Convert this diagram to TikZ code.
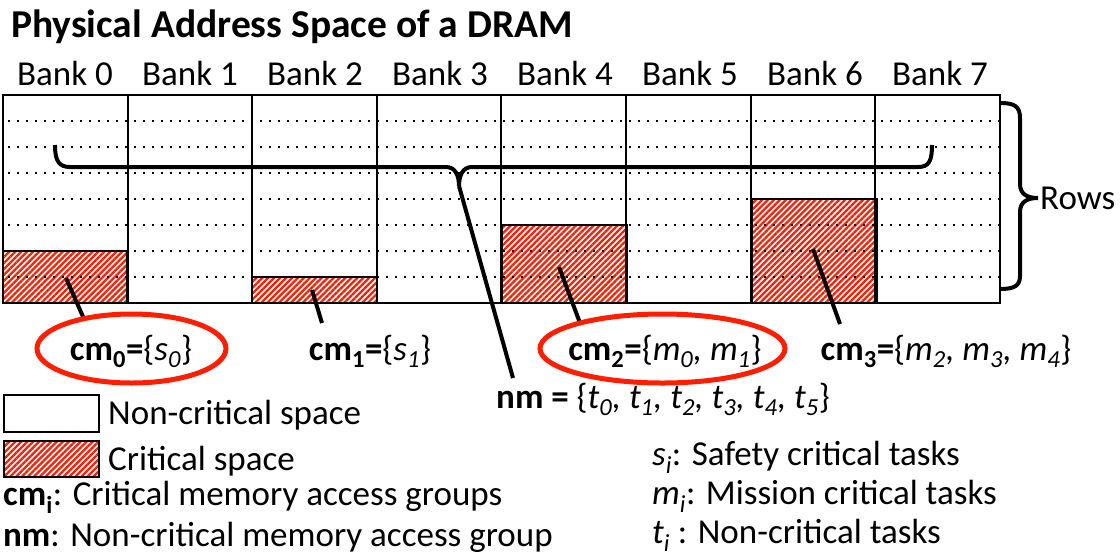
\documentclass[tikz,border=0pt]{standalone}
\usepackage{fontspec}
\setmainfont{Carlito}
\usetikzlibrary{shapes.geometric,patterns.meta}
\definecolor{hred}{RGB}{255,30,0}
\newcommand\bodyfont{\fontsize{35}{40}\selectfont}
\newcommand\titlefont{\fontsize{39.5}{44}\selectfont\bfseries}
\newcommand\sbx[1]{\textsubscript{#1}}
\tikzset{
  gridline/.style={line width=2pt},
  rowline/.style={line width=1.9pt, dash pattern=on 1.9pt off 7.1pt},
  hatchbox/.style={pattern={Lines[angle=45,distance=4.2pt,line width=2.3pt]}, pattern color=hred},
  hatchborder/.style={draw=black, line width=2pt},
  pointer/.style={line width=4pt},
  bracepath/.style={line width=4pt},
  oval/.style={ellipse, draw=hred, line width=5pt, inner sep=0pt},
  lbl/.style={font=\bodyfont, inner sep=0pt},
  legbox/.style={draw=black, line width=2pt}
}
\begin{document}
\begin{tikzpicture}[x=1pt,y=-1pt]
\useasboundingbox (0,0) rectangle (1120,558);
% title
\node[font=\titlefont, anchor=base west, inner sep=0pt] (title) at (11,37) {Physical Address Space of a DRAM};
% bank labels
\foreach \i in {0,...,7} {
  \node[lbl, anchor=base] (bank\i) at ({65+125*\i},85) {Bank \i};
}
% hatched critical regions
\fill[hatchbox] (3,251) rectangle (127,303);
\fill[hatchbox] (252,277) rectangle (377,303);
\fill[hatchbox] (502,225) rectangle (627,303);
\fill[hatchbox] (752,199) rectangle (877,303);
% dotted row lines
\foreach \r in {1,...,7} {
  \draw[rowline] (8,{95+26*\r}) -- (1000,{95+26*\r});
}
% grid
\draw[gridline] (3,95) rectangle (1000,303);
\foreach \i in {1,...,7} {
  \draw[gridline] ({3+124.6*\i},95) -- ({3+124.6*\i},303);
}
\draw[hatchborder] (3,251) rectangle (127,303);
\draw[hatchborder] (252,277) rectangle (377,303);
\draw[hatchborder] (502,225) rectangle (627,303);
\draw[hatchborder] (752,199) rectangle (877,303);
% horizontal brace
\coordinate (tip) at (459,186);
\draw[bracepath] (55,145) .. controls (55,161) and (59,167) .. (70,167) -- (446,167)
  .. controls (455,167) and (459,175) .. (tip);
\draw[bracepath] (tip) .. controls (459,175) and (463,167) .. (472,167) -- (918,167)
  .. controls (929,167) and (932,161) .. (932,145);
% right brace
\coordinate (rtip) at (1038,198);
\draw[bracepath] (1000,103) .. controls (1014,103) and (1020,106) .. (1020,118) -- (1020,184)
  .. controls (1020,194) and (1027,198) .. (rtip);
\draw[bracepath] (rtip) .. controls (1027,198) and (1020,202) .. (1020,212) -- (1020,276)
  .. controls (1020,286) and (1014,289) .. (1000,289);
\node[lbl, anchor=west] (rows) at (1040,198) {Rows};
% pointer coordinates
\coordinate (p0) at (66,278);
\coordinate (q0) at (84,319);
\coordinate (p1) at (312,290);
\coordinate (q1) at (322,323);
\coordinate (p2) at (559,267);
\coordinate (q2) at (580,323);
\coordinate (p3) at (813,249);
\coordinate (q3) at (840,324);
\coordinate (qn) at (513,378);
\draw[pointer] (p0) -- (q0);
\draw[pointer] (p1) -- (q1);
\draw[pointer] (p2) -- (q2);
\draw[pointer] (p3) -- (q3);
\draw[pointer] (tip) -- (qn);
% ellipses
\node[oval, minimum width=189pt, minimum height=69pt] (e0) at (131.5,348.5) {};
\node[oval, minimum width=245pt, minimum height=69pt] (e2) at (662.5,348.5) {};
% group labels
\node[lbl, anchor=base] (cm0) at (131,360) {\textbf{cm\sbx{0}=}\{\textit{s\sbx{0}}\}};
\node[lbl, anchor=base] (cm1) at (370,360) {\textbf{cm\sbx{1}=}\{\textit{s\sbx{1}}\}};
\node[lbl, anchor=base] (cm2) at (665,360) {\textbf{cm\sbx{2}=}\{\textit{m\sbx{0}, m\sbx{1}}\}};
\node[lbl, anchor=base] (cm3) at (946,360) {\textbf{cm\sbx{3}=}\{\textit{m\sbx{2}, m\sbx{3}, m\sbx{4}}\}};
\node[lbl, anchor=base] (nm) at (663,408) {\textbf{nm =} \{\textit{t\sbx{0}, t\sbx{1}, t\sbx{2}, t\sbx{3}, t\sbx{4}, t\sbx{5}}\}};
% legend
\node[legbox, minimum width=95pt, minimum height=37pt, anchor=north west, inner sep=0pt] (lb1) at (3,394) {};
\fill[hatchbox] (3,440) rectangle (98,476);
\node[legbox, minimum width=95pt, minimum height=36pt, anchor=north west, inner sep=0pt] (lb2) at (3,440) {};
\node[lbl, anchor=base west] (l1) at (108,424) {Non-critical space};
\node[lbl, anchor=base west] (l2) at (108,470) {Critical space};
\node[lbl, anchor=base west] (l3) at (3,505) {\textbf{cm\sbx{i}}: Critical memory access groups};
\node[lbl, anchor=base west] (l4) at (3,546) {\textbf{nm}: Non-critical memory access group};
\node[lbl, anchor=base west] (r1) at (652,465) {\textit{s\sbx{i}}: Safety critical tasks};
\node[lbl, anchor=base west] (r2) at (652,504) {\textit{m\sbx{i}}: Mission critical tasks};
\node[lbl, anchor=base west] (r3) at (652,543) {\textit{t\sbx{i}} : Non-critical tasks};
\end{tikzpicture}
\end{document}
